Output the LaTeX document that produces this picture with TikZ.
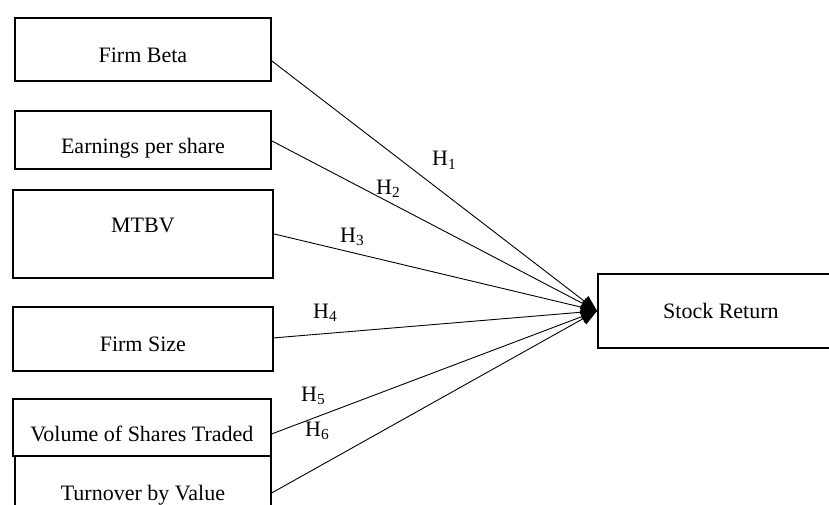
\documentclass[tikz,border=0pt]{standalone}
\usepackage{fontspec}
\setmainfont{Liberation Serif}
\usetikzlibrary{arrows.meta}

\begin{document}
\begin{tikzpicture}[x=1pt,y=-1pt]
  \useasboundingbox (0,0) rectangle (829,505);
  \tikzstyle{every node}=[rectangle,draw,line width=1.8pt,inner sep=0pt,anchor=north west,font=\fontsize{22}{26}\selectfont]
  \node[minimum width=256pt,text height=45pt,text depth=18pt] (beta)     at (14,17)  {Firm Beta};
  \node[minimum width=256pt,text height=43pt,text depth=15pt] (eps)      at (14,110) {Earnings per share};
  \node[minimum width=260pt,text height=43pt,text depth=45pt] (mtbv)     at (12,189) {MTBV};
  \node[minimum width=260pt,text height=45pt,text depth=19pt] (firmsize) at (12,306) {Firm Size};
  \node[minimum width=258pt,text height=43pt,text depth=14pt] (volume)   at (12,398) {Volume of Shares Traded};
  \node[minimum width=256pt,text height=45pt,text depth=20pt] (turnover) at (14,455) {Turnover by Value};
  \node[minimum width=246pt,text height=45pt,text depth=29pt] (stock)    at (597,273) {Stock Return};

%% hypotheses: every factor -> stock return
  \foreach \src/\dy in {beta/-11.5, eps/-1, mtbv/0, firmsize/1, volume/-6.5, turnover/-4.5}
    \draw[line width=0.9pt,-{Triangle[length=16pt,width=13pt]}] ([yshift=\dy pt] \src.east) -- (stock.west);

%% labels
  \tikzstyle{every node}=[draw=none,inner sep=0pt,anchor=base west,font=\fontsize{22}{26}\selectfont]
  \foreach \n/\x/\y in {1/432/166, 2/376/194, 3/340/242, 4/313/318, 5/301/401, 6/305/436}
    \node (h\n) at (\x,\y) {H\textsubscript{\n}};
\end{tikzpicture}
\end{document}
